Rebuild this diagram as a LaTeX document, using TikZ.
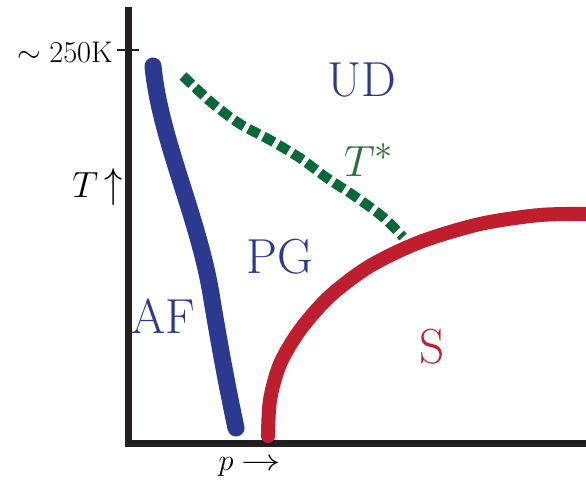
\documentclass[tikz,border=0pt]{standalone}
\usepackage{tikz}
\definecolor{afblue}{RGB}{43, 57, 144}
\definecolor{scred}{RGB}{190, 30, 45}
\definecolor{pggreen}{RGB}{8, 104, 56}
\definecolor{tgreen}{RGB}{45, 110, 62}
\definecolor{axisgray}{RGB}{35, 31, 32}
\usetikzlibrary{positioning}

\begin{document}
\begin{tikzpicture}[x=0.02cm, y=-0.02cm,
    phase/.style={text=#1, font=\fontsize{28}{30}\selectfont, inner sep=0pt},
    axislabel/.style={text=black, inner sep=0pt},
    axis/.style={draw=axisgray, line width=4pt},
    border/.style={line width=#1, line cap=round}
]
    \useasboundingbox (0,0) rectangle (586,483);

    % Axes
    \draw[axis] (128.5,7) -- (128.5,443.5) -- (586,443.5);
    \draw[draw=axisgray, line width=1.5pt] (117,50) -- (139,50);

    % AF boundary
    \draw[border=9.7pt, afblue] (153,66) .. controls (160,140) and (200,220) .. (212,300)
        .. controls (222,360) and (230,400) .. (236,428);

    % Superconducting dome
    \draw[border=8pt, scred] plot[smooth] coordinates
        {(268,436) (270,400) (280,364) (300,330) (330,296) (370,266) (420,242) (480,224) (540,215) (590,214)};

    % Pseudogap crossover
    \draw[pggreen, line width=5.7pt, dash pattern=on 6.8pt off 2.8pt] plot[smooth] coordinates
        {(183,76) (212,103) (240,124) (270,140) (300,158) (327,178) (353,195) (383,217) (403,237)};

    % Phase labels
    \node[phase=afblue] (ud) at (362,80) {UD};
    \node[phase=tgreen] (tstar) at (369,160) {$T^*$};
    \node[phase=afblue] (pg) at (280,257) {PG};
    \node[phase=afblue] (af) at (163,316) {AF};
    \node[phase=scred] (sc) at (432,347) {S};

    % Axis labels
    \node[axislabel, anchor=east, font=\fontsize{17}{19}\selectfont] (tmax) at (113,52) {$\sim 250$K};
    \node[axislabel, anchor=east, font=\fontsize{22}{24}\selectfont] (tlab) at (123,187)
        {$T\,\scalebox{1}[1.15]{$\uparrow$}$};
    \node[axislabel, font=\fontsize{17}{19}\selectfont] (plab) at (250,467)
        {$p\mathrel{\scalebox{1.3}[1]{$\rightarrow$}}$};
\end{tikzpicture}
\end{document}
